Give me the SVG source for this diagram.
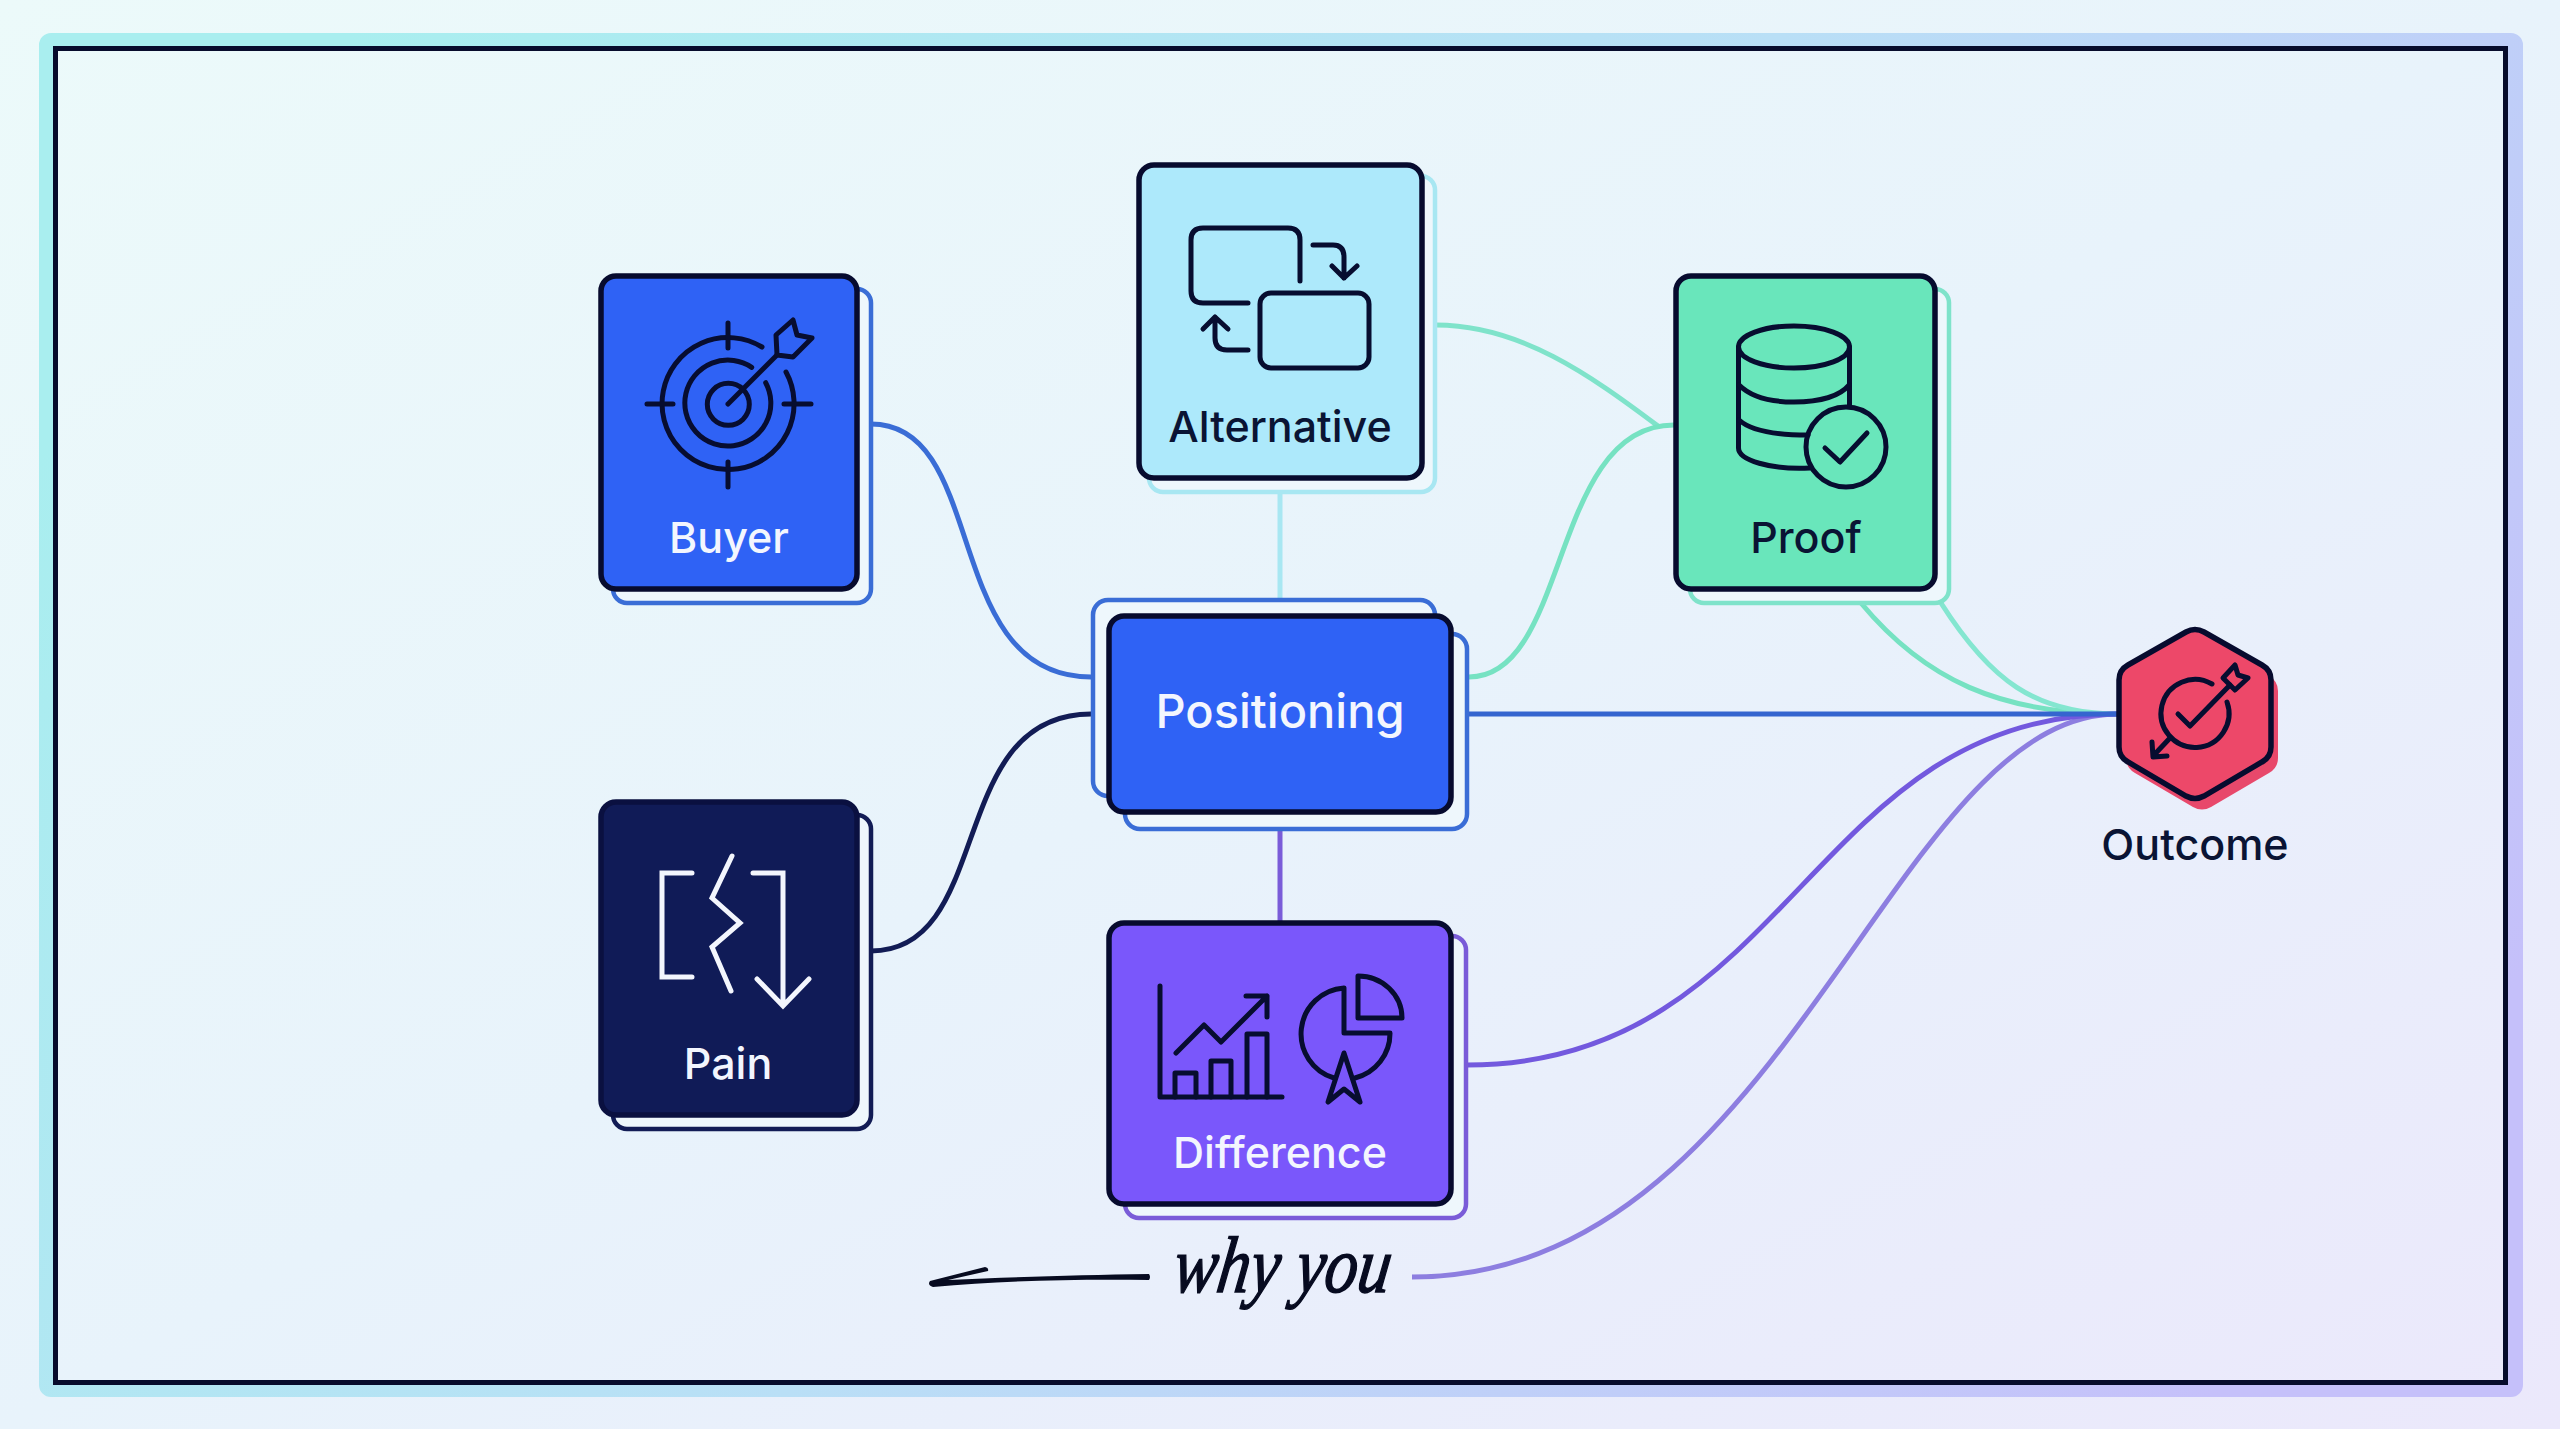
<svg xmlns="http://www.w3.org/2000/svg" width="2560" height="1429" viewBox="0 0 2560 1429">
<defs>
<linearGradient id="bg" x1="0" y1="0" x2="1" y2="1"><stop offset="0" stop-color="#ecfafa"/><stop offset="0.5" stop-color="#e8f3fb"/><stop offset="1" stop-color="#ebe8fb"/></linearGradient>
<linearGradient id="frame" x1="0" y1="0.3" x2="1" y2="0.7"><stop offset="0" stop-color="#a9eeef"/><stop offset="0.5" stop-color="#b9dff6"/><stop offset="1" stop-color="#c5c0fa"/></linearGradient>
<path id="hex" d="M2186 632Q2195 627 2204 632L2262 665Q2271 670 2271 680V747Q2271 757 2262 762L2204 796Q2195 801 2186 796L2128 762Q2119 757 2119 747V680Q2119 670 2128 665Z"/>
</defs>
<style>
.t{font-family:Inter,"Liberation Sans",sans-serif;font-weight:500;text-anchor:middle}
.lbl{font-size:43px}
.main{stroke-width:5.500}
.off{stroke-width:4.500;fill:#eef7fc}
.ico{fill:none;stroke:#070d30;stroke-width:5;stroke-linecap:round;stroke-linejoin:round}
.wht{fill:none;stroke:#f3f6fd;stroke-width:5;stroke-linecap:round;stroke-linejoin:miter}
.c{fill:none;stroke-width:5;stroke-linecap:butt}
</style>
<rect width="2560" height="1429" fill="url(#bg)"/>
<rect id="frame-outer" x="47" y="41" width="2468" height="1348" rx="4" fill="none" stroke="url(#frame)" stroke-width="16"/>
<rect id="frame-inner" x="55.500" y="48.500" width="2450" height="1334" fill="none" stroke="#070c2c" stroke-width="5"/>

<g id="connectors">
<path class="c" stroke="#3a6dd6" d="M871 424C990 424 940 677 1091 677"/>
<path class="c" stroke="#121c55" d="M871 951C995 951 945 714 1091 714"/>
<path class="c" stroke="#a8e7f2" d="M1280 492V598"/>
<path class="c" stroke="#7a5cd8" stroke-width="5.500" d="M1280 830V921"/>
<path class="c" stroke="#7fe3ca" d="M1436 325C1520 325 1590 375 1658 426"/>
<path class="c" stroke="#76e2c2" d="M1469 677C1570 677 1550 425 1674 425"/>
<path class="c" stroke="#76e2c2" d="M1861 603C1925 680 2000 714 2118 714"/>
<path class="c" stroke="#84e6d0" d="M1941 603C1990 680 2035 714 2118 714"/>
<path class="c" stroke="#8d7ee0" d="M1412 1277C1786 1277 1891 714 2118 714"/>
<path class="c" stroke="#7359de" d="M1467 1065C1790 1065 1810 714 2118 714"/>
<path class="c" stroke="#3565cf" stroke-width="5.500" d="M1469 714H2118"/>
</g>

<g id="node-buyer">
<rect class="off" x="613" y="289" width="258" height="314" rx="14" stroke="#3a6dd6"/>
<rect class="main" x="601" y="276" width="256" height="313" rx="15" fill="#2f62f5" stroke="#070b2e"/>
<g class="ico">
<path d="M786 372A66 66 0 1 1 762 347"/>
<path d="M765.700 382.700A43 43 0 1 1 751.700 367.300"/>
<circle cx="728.300" cy="404.300" r="21"/>
<path d="M728 323V348M728 462V487M647 404H673M784 404H811"/>
<path d="M728 404L777 355"/>
<path d="M776 335L793 320L797 335L812 338L793 357L777 355Z"/>
</g>
<text class="t lbl" x="729" y="553" fill="#f3f6fe">Buyer</text>
</g>

<g id="node-alternative">
<rect class="off" x="1149" y="176" width="286" height="316" rx="14" stroke="#a8e7f2"/>
<rect class="main" x="1139" y="165" width="283" height="313" rx="15" fill="#ade9fb" stroke="#070b2e"/>
<g class="ico">
<path d="M1248 303H1203Q1191 303 1191 291V240Q1191 228 1203 228H1288Q1300 228 1300 240V281"/>
<rect x="1260" y="293" width="109" height="75" rx="11"/>
<path d="M1313 245H1333Q1344 245 1344 257V278M1332 266L1344 278L1357 266"/>
<path d="M1248 350H1227Q1215 350 1215 338V317M1203 329L1215 317L1228 329"/>
</g>
<text class="t lbl" x="1280" y="442" fill="#0a1434">Alternative</text>
</g>

<g id="node-proof">
<rect class="off" x="1690" y="289" width="259" height="314" rx="14" stroke="#7fe3ca"/>
<rect class="main" x="1676" y="276" width="259" height="313" rx="15" fill="#69e6bb" stroke="#070b2e"/>
<g class="ico">
<ellipse cx="1794" cy="347" rx="55.500" ry="21"/>
<path d="M1738.500 347V448C1738.500 460 1770 470 1810 468M1849.500 347V405"/>
<path d="M1739 385C1750 396 1770 402 1794 402C1820 402 1840 396 1849 385"/>
<path d="M1739 420C1750 430 1775 435 1808 435"/>
<circle cx="1846" cy="447" r="40"/>
<path d="M1825 448L1840 462L1867 433"/>
</g>
<text class="t lbl" x="1806" y="553" fill="#0a1434">Proof</text>
</g>

<g id="node-pain">
<rect class="off" x="613" y="815" width="258" height="314" rx="14" stroke="#121c55"/>
<rect class="main" x="601" y="802" width="256" height="313" rx="15" fill="#101b57" stroke="#0a1040"/>
<path class="wht" d="M692 873H662V977H692"/>
<path class="wht" d="M732 856L712 898L740 923L712 947L731 991"/>
<path class="wht" d="M753 873H783V1005M757 979L783 1006L809 979"/>
<text class="t lbl" x="728" y="1079" fill="#f3f6fe">Pain</text>
</g>

<g id="node-positioning">
<rect class="off" x="1093" y="600" width="342" height="196" rx="15" stroke="#3a6dd6"/>
<rect class="off" x="1125" y="634" width="342" height="195" rx="15" stroke="#3a6dd6"/>
<rect class="main" x="1109" y="616" width="342" height="196" rx="15" fill="#2f62f5" stroke="#070b2e"/>
<text class="t" x="1280" y="728" font-size="47" fill="#f3f6fe">Positioning</text>
</g>

<g id="node-difference">
<rect class="off" x="1125" y="936" width="341" height="282" rx="14" stroke="#7a5cd8"/>
<rect class="main" x="1109" y="923" width="342" height="281" rx="15" fill="#7a57fb" stroke="#070b2e"/>
<g class="ico">
<path d="M1160 986V1097H1282"/>
<path d="M1175 1097V1073H1196V1097M1211 1097V1061H1231V1097M1247 1097V1034H1267V1097"/>
<path d="M1176 1053L1204 1025L1221 1042L1267 996M1246 996H1267V1017"/>
<path d="M1344 988V1033H1390A46 46 0 0 1 1355 1078M1334 1078A46 46 0 0 1 1344 988"/>
<path d="M1358 976V1018H1402A44 42 0 0 0 1358 976Z"/>
<path d="M1344 1053L1360 1102L1344 1089L1328 1102Z"/>
</g>
<text class="t lbl" x="1280" y="1168" fill="#f3f6fe">Difference</text>
</g>

<g id="node-outcome">
<use href="#hex" transform="translate(7 11)" fill="#e8486b"/>
<use href="#hex" fill="#ed4869" stroke="#070b2e" stroke-width="5.500"/>
<g class="ico">
<path d="M2227 702A34 34 0 1 1 2212 684"/>
<path d="M2178 714L2190 726L2230 685"/>
<path d="M2223 678L2235 665L2238 675L2248 678L2235 690Z"/>
<path d="M2170 738L2154 755M2152 742L2153 757L2167 756"/>
</g>
<text class="t lbl" x="2195" y="860" fill="#0a1434">Outcome</text>
</g>

<g id="note-why-you">
<path d="M1149 1274Q1151 1277 1149 1280C1070 1279 1000 1281 933 1287Q927 1285 930 1281L985 1267Q989 1268 988 1271L948 1280C1020 1277 1080 1275 1149 1274Z" fill="#070b20"/>
<text transform="translate(1171 1292) skewX(-8)" font-family="Liberation Serif, serif" font-style="italic" font-size="80" textLength="217" lengthAdjust="spacingAndGlyphs" fill="#070b20" stroke="#070b20" stroke-width="1.500">why you</text>
</g>
</svg>
